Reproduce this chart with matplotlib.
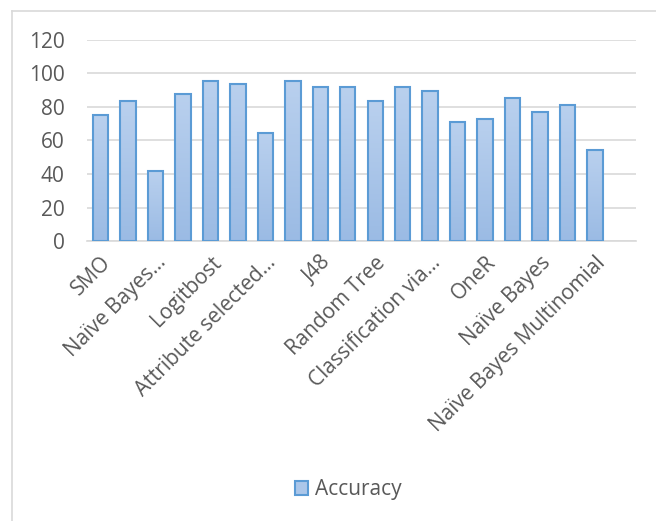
import matplotlib
matplotlib.use("Agg")
from matplotlib import pyplot as plt
from matplotlib.lines import Line2D
from matplotlib.patches import Patch
from matplotlib.colors import LinearSegmentedColormap
import numpy as np

# category labels (Excel only shows every other one)
categories = ["SMO", "", "Naïve Bayes...", "", "Logitbost", "",
              "Attribute selected...", "", "J48", "", "Random Tree", "",
              "Classification via...", "", "OneR", "", "Naïve Bayes", "",
              "Naïve Bayes Multinomial", ""]
accuracy = [75, 83.3, 41.7, 87.5, 95.8, 93.8, 64.6, 95.8, 91.7, 91.7,
            83.3, 91.7, 89.6, 70.8, 72.9, 85.4, 77.1, 81.3, 54.2, np.nan]
yticks = [0, 20, 40, 60, 80, 100, 120]

TEXT = "#595959"
GRID = "#d9d9d9"
EDGE = "#5b9bd5"
plt.rcParams['font.family'] = ['Open Sans', 'DejaVu Sans']

fig = plt.figure(figsize=(6.56, 5.21), dpi=100)
ax = fig.add_axes([87/656, 1 - 241/521, (636-87)/656, (241-40)/521])

x = np.arange(len(categories))
bars = ax.bar(x, accuracy, width=0.56, color="none", edgecolor=EDGE,
              linewidth=1.5, zorder=4)

# soft vertical gradient inside each bar, like the Excel fill
grad = LinearSegmentedColormap.from_list("g", ["#9bbbe4", "#b9d0ee"])
for b in bars:
    h = b.get_height()
    if not np.isfinite(h) or h <= 0:
        continue
    x0 = b.get_x()
    im = ax.imshow(np.linspace(0, 1, 64).reshape(-1, 1), cmap=grad,
                   origin='lower', aspect='auto', zorder=3.5,
                   extent=(x0, x0 + b.get_width(), 0, h))
    im.set_clip_path(b)

ax.set_xlim(-0.5, len(categories) - 0.5)
ax.set_ylim(0, 120)
ax.set_yticks(yticks)
ax.grid(axis='y', color=GRID, linewidth=1.2, zorder=0)
ax.tick_params(axis='y', length=0, labelsize=15, labelcolor=TEXT, pad=16)
ax.set_xticks(x[::2])
ax.set_xticklabels(categories[::2], rotation=45, ha='right',
                   rotation_mode='anchor', fontsize=15, color=TEXT)
ax.tick_params(axis='x', length=0, pad=8)
for s in ['top', 'right', 'left']:
    ax.spines[s].set_visible(False)
ax.spines['bottom'].set_color(GRID)
ax.spines['bottom'].set_linewidth(1.2)

proxy = Patch(facecolor="#abc6e9", edgecolor=EDGE, linewidth=1.5,
              label="Accuracy")
leg = ax.legend(handles=[proxy], loc='center',
                bbox_to_anchor=(348/656, 1 - 490/521),
                bbox_transform=fig.transFigure, frameon=False, fontsize=15,
                handlelength=0.65, handleheight=0.65, handletextpad=0.3)
for t in leg.get_texts():
    t.set_color(TEXT)

# chart border (only top and left edges fall inside the image)
fig.add_artist(Line2D([12/656, 12/656], [0, 1 - 11/521],
                      transform=fig.transFigure, color=GRID, linewidth=1.2))
fig.add_artist(Line2D([12/656, 1], [1 - 11/521, 1 - 11/521],
                      transform=fig.transFigure, color=GRID, linewidth=1.2))

fig.savefig("out.png", dpi=100)
